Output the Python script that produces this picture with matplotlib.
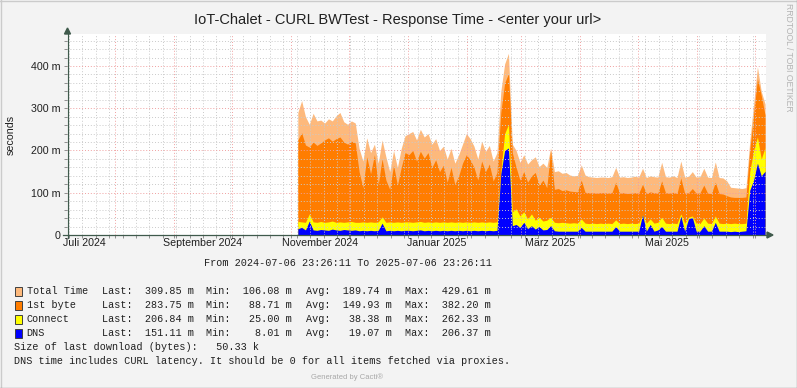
import numpy as np
import pandas as pd
import matplotlib
matplotlib.use("Agg")
import matplotlib.pyplot as plt
import matplotlib.dates as mdates
from matplotlib.ticker import MultipleLocator, FuncFormatter, NullFormatter
from matplotlib.patches import Polygon, Rectangle
from matplotlib.lines import Line2D

plt.rcParams['font.family'] = ['Liberation Sans', 'DejaVu Sans']

# ---- data (milliseconds, one sample every 2 days) ----
START = "2024-11-04 12:00"
total_time = [290, 318, 280, 262, 288, 270, 272, 265, 275, 270, 282, 290, 268, 262, 270, 265,
              205, 175, 230, 195, 215, 170, 225, 185, 150, 200, 160, 205, 235,
              240, 245, 225, 250, 232, 240, 215, 228, 200, 210, 180, 205, 170, 190, 215, 240,
              228, 210, 180, 222, 198, 212, 175, 195,
              340, 405, 430, 215,
              200, 172, 190, 168, 178, 185, 162, 170, 160, 206, 150, 152, 146, 148, 142, 140,
              141, 166, 142, 138, 137, 136, 137,
              137, 136, 138, 160, 137, 138, 136, 137, 139, 137, 158, 136, 140, 138, 137, 172,
              138, 137, 140, 136, 175, 137, 139, 150, 137, 138, 158, 137, 136, 173, 136, 135,
              128, 113, 112, 111,
              110, 112, 222, 310, 398, 340, 310]
first_byte = [225, 242, 213, 208, 220, 212, 218, 225, 230, 222, 228, 232, 220, 215, 222, 218,
              150, 112, 185, 145, 190, 120, 180, 130, 108, 165, 118, 160, 195,
              190, 200, 175, 198, 182, 195, 160, 178, 150, 165, 125, 160, 120, 140, 170, 190,
              178, 160, 130, 175, 150, 168, 128, 148,
              290, 360, 382, 195,
              160, 130, 150, 125, 140, 148, 118, 130, 112, 200, 108, 110, 105, 107, 104, 103,
              102, 130, 101, 100, 100, 99, 100,
              100, 99, 100, 125, 99, 100, 98, 99, 100, 99, 120, 98, 102, 100, 99, 128,
              100, 99, 101, 98, 135, 99, 100, 110, 99, 100, 118, 99, 98, 125, 98, 97,
              93, 90, 89, 89,
              89, 90, 200, 285, 370, 330, 284]
connect = [32, 31, 30, 50, 31, 30, 32, 30, 31, 33, 30, 31, 30, 31, 32, 30,
           30, 31, 30, 31, 30, 31, 43, 30, 31, 30, 31, 30, 31,
           31, 30, 31, 32, 30, 31, 30, 31, 30, 31, 30, 31, 30, 31, 30, 31,
           30, 31, 30, 31, 30, 31, 30, 31,
           150, 240, 262, 55,
           62, 45, 55, 38, 50, 35, 42, 33, 35, 42, 30, 29, 30, 29, 28, 29,
           28, 38, 28, 27, 28, 27, 28,
           27, 28, 27, 36, 27, 28, 27, 28, 27, 28, 48, 28, 38, 28, 30, 42,
           28, 27, 28, 27, 50, 28, 42, 45, 28, 27, 40, 28, 27, 45, 28, 27,
           28, 27, 28, 27,
           27, 28, 150, 200, 232, 180, 207]
dns = [15, 18, 12, 33, 12, 11, 13, 12, 11, 14, 12, 11, 13, 12, 11, 12,
       10, 11, 10, 11, 10, 11, 28, 10, 11, 10, 11, 10, 11,
       11, 10, 11, 12, 10, 11, 10, 11, 10, 11, 10, 11, 10, 11, 10, 11,
       10, 11, 10, 11, 10, 11, 10, 11,
       145, 200, 206, 22,
       25, 18, 30, 15, 22, 14, 20, 12, 13, 22, 10, 9, 9, 9, 9, 9,
       9, 18, 9, 9, 9, 9, 9,
       9, 9, 9, 20, 9, 9, 9, 9, 9, 9, 48, 9, 25, 9, 12, 20,
       9, 9, 9, 9, 45, 9, 38, 42, 9, 9, 22, 9, 9, 30, 9, 9,
       9, 8, 9, 8,
       9, 10, 106, 130, 170, 140, 151]

series_names = ["Total Time", "1st byte", "Connect", "DNS"]
series_colors = ["#FDB97C", "#FF7D00", "#FFFF00", "#0000FF"]
last_vals = ["309.85", "283.75", "206.84", "151.11"]
min_vals = ["106.08", "88.71", "25.00", "8.01"]
avg_vals = ["189.74", "149.93", "38.38", "19.07"]
max_vals = ["429.61", "382.20", "262.33", "206.37"]

month_labels = ["Juli 2024", "September 2024", "November 2024", "Januar 2025", "März 2025", "Mai 2025"]
month_label_dates = ["2024-07-16", "2024-09-16", "2024-11-16", "2025-01-16", "2025-03-16", "2025-05-16"]

# ---- layout ----
W, H = 797, 388
fig = plt.figure(figsize=(W / 100, H / 100), dpi=100, facecolor="#F3F3F3")


def fx(px):
    return px / W


def fy(py):
    return 1 - py / H


ax = fig.add_axes([fx(67), fy(235), (766 - 67) / W, (235 - 34) / H])
ax.set_facecolor("white")

dates = pd.date_range(START, periods=len(total_time), freq="2D")
for vals, col in zip([total_time, first_byte, connect, dns], series_colors):
    ax.fill_between(dates, 0, vals, color=col, linewidth=0, zorder=1)

ax.set_xlim(pd.Timestamp("2024-07-06 23:26:11"), pd.Timestamp("2025-07-06 23:26:11"))
ax.set_ylim(0, 475.7)

ax.xaxis.set_major_locator(mdates.MonthLocator())
ax.xaxis.set_minor_locator(mdates.WeekdayLocator(byweekday=mdates.MO))
ax.xaxis.set_major_formatter(NullFormatter())
ax.yaxis.set_major_locator(MultipleLocator(100))
ax.yaxis.set_minor_locator(MultipleLocator(20))
ax.yaxis.set_major_formatter(FuncFormatter(lambda v, p: "0" if v == 0 else "%d m" % v))

ax.set_axisbelow(False)
ax.grid(which="major", color="#F0A0A0", linestyle=(0, (1, 2)), linewidth=0.7)
ax.grid(which="minor", color="#CACACA", linestyle=(0, (1, 2)), linewidth=0.7)
ax.tick_params(which="both", length=2, width=0.6, color="#808080")
ax.tick_params(axis="y", which="major", labelsize=7.7, pad=3, labelcolor="#202020")
for s in ax.spines.values():
    s.set_visible(False)

for d, lab in zip(month_label_dates, month_labels):
    ax.text(pd.Timestamp(d), -0.04, lab, transform=ax.get_xaxis_transform(),
            ha="center", va="center", fontsize=7.7, color="#202020")

# axes lines with arrows
axis_col = "#3F5A4C"
fig.add_artist(Line2D([fx(67.5), fx(67.5)], [fy(237.5), fy(31)], color=axis_col, lw=0.9))
fig.add_artist(Line2D([fx(63), fx(768)], [fy(235), fy(235)], color=axis_col, lw=0.9))
fig.add_artist(Polygon([[fx(64.5), fy(34)], [fx(70.5), fy(34)], [fx(67.5), fy(28)]],
                       closed=True, color=axis_col, transform=fig.transFigure))
fig.add_artist(Polygon([[fx(767), fy(232)], [fx(767), fy(238)], [fx(773), fy(235)]],
                       closed=True, color=axis_col, transform=fig.transFigure))

# texts
fig.text(fx(398), fy(20), "IoT-Chalet - CURL BWTest - Response Time - <enter your url>",
         ha="center", va="center", fontsize=10.5, color="#202020")
fig.text(fx(11), fy(135), "seconds", rotation=90, ha="center", va="center",
         fontsize=7.7, color="#202020")
fig.text(fx(789), fy(57), "RRDTOOL / TOBI OETIKER", rotation=270, ha="center", va="center",
         fontsize=6.2, color="#B4B4B4")

mono = dict(family=["Liberation Mono", "DejaVu Sans Mono"], fontsize=7.27, color="#202020", va="center")
fig.text(fx(204), fy(263.3), "From 2024-07-06 23:26:11 To 2025-07-06 23:26:11", **mono)

row_y = [290.7, 304.7, 318.7, 332.7]
for i, name in enumerate(series_names):
    y = row_y[i]
    fig.add_artist(Rectangle((fx(14.5), fy(y + 5)), 7 / W, 8.5 / H, facecolor=series_colors[i],
                             edgecolor="#404040", linewidth=0.7, transform=fig.transFigure))
    fig.text(fx(26.7), fy(y), name, **mono)
    fig.text(fx(101.7), fy(y), "Last: %7s m" % last_vals[i], **mono)
    fig.text(fx(206), fy(y), "Min: %7s m" % min_vals[i], **mono)
    fig.text(fx(306), fy(y), "Avg: %7s m" % avg_vals[i], **mono)
    fig.text(fx(405), fy(y), "Max: %7s m" % max_vals[i], **mono)

fig.text(fx(14), fy(346.7), "Size of last download (bytes):   50.33 k", **mono)
fig.text(fx(14), fy(360.7), "DNS time includes CURL latency. It should be 0 for all items fetched via proxies.", **mono)
fig.text(fx(347), fy(377.3), "Generated by Cacti®", ha="center", va="center", fontsize=5.5, color="#A8A8A8")

# frame
fig.add_artist(Line2D([fx(0.5), fx(0.5)], [0, 1], color="#CBCBCB", lw=1))
fig.add_artist(Line2D([0, 1], [fy(0.5), fy(0.5)], color="#CBCBCB", lw=1))
fig.add_artist(Line2D([fx(796.5), fx(796.5)], [0, 1], color="#999999", lw=1))
fig.add_artist(Line2D([0, 1], [fy(387.5), fy(387.5)], color="#999999", lw=1))

fig.savefig("out.png", dpi=100, facecolor=fig.get_facecolor())
